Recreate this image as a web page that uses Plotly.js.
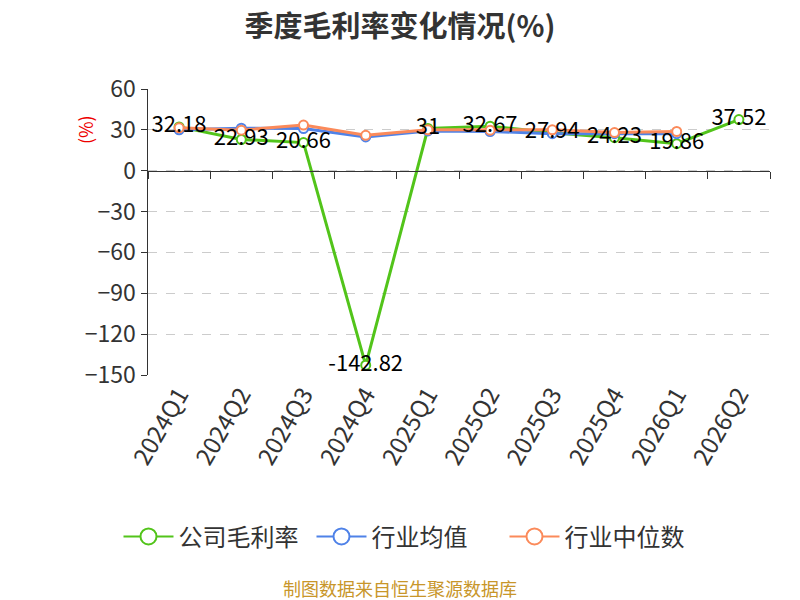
<!DOCTYPE html>
<html>
<head>
<meta charset="utf-8">
<script src="https://cdn.plot.ly/plotly-3.0.1.min.js"></script>
<style>
  html, body { margin: 0; padding: 0; background: #fff; }
  #chart { width: 800px; height: 600px; }
</style>
</head>
<body>
<div id="chart"></div>
<script>
// quarterly gross margin data
const quarters = ['2024Q1', '2024Q2', '2024Q3', '2024Q4', '2025Q1', '2025Q2', '2025Q3', '2025Q4', '2026Q1', '2026Q2'];
const companyMargin = [32.18, 22.93, 20.66, -142.82, 31, 32.67, 27.94, 24.23, 19.86, 37.52];
const industryAvg = [30, 31.2, 31, 24.8, 29.2, 28.8, 27.2, 27.2, 27.2, null];
const industryMedian = [31.5, 29.8, 33.5, 26, 30, 29.8, 30, 28, 28.8, null];
const yTicks = [-150, -120, -90, -60, -30, 0, 30, 60];

const FONT = '"Noto Sans CJK SC", "Noto Sans", sans-serif';
const GREEN = '#52c41a', BLUE = '#4f82e8', ORANGE = '#fb8a5a';

function series(name, y, color) {
    return {
        x: quarters, y: y, name: name,
        type: 'scatter', mode: 'lines+markers',
        line: { color: color, width: 3 },
        marker: { size: 9, color: '#fff', line: { color: color, width: 2 } },
        cliponaxis: false, showlegend: false,
        hoverinfo: 'skip'
    };
}

// legend-only entries, bigger circle like the original
function legendEntry(name, color) {
    return {
        x: [null], y: [null], name: name,
        type: 'scatter', mode: 'lines+markers',
        line: { color: color, width: 2 },
        marker: { size: 16, color: '#fff', line: { color: color, width: 2 } },
        hoverinfo: 'skip'
    };
}

const traces = [
    series('公司毛利率', companyMargin, GREEN),
    series('行业均值', industryAvg, BLUE),
    series('行业中位数', industryMedian, ORANGE),
    {
        x: quarters, y: companyMargin, type: 'scatter', mode: 'text',
        text: companyMargin.map(v => String(v)), textposition: 'middle center',
        textfont: { family: FONT, size: 22, color: '#000' },
        cliponaxis: false, showlegend: false, hoverinfo: 'skip'
    },
    // dummy trace so the zero axis with ticks gets drawn
    { x: quarters, y: quarters.map(() => null), xaxis: 'x2', type: 'scatter',
      mode: 'markers', showlegend: false, hoverinfo: 'skip' },
    legendEntry('公司毛利率', GREEN),
    legendEntry('行业均值', BLUE),
    legendEntry('行业中位数', ORANGE)
];

const layout = {
    width: 800, height: 600,
    paper_bgcolor: '#fff', plot_bgcolor: '#fff',
    font: { family: FONT, color: '#333' },
    margin: { l: 148, r: 30, t: 89, b: 225 },
    title: {
        text: '<b>季度毛利率变化情况(%)</b>',
        font: { family: FONT, size: 29, color: '#333' },
        x: 0.5, xanchor: 'center', y: 0.955, yanchor: 'middle'
    },
    xaxis: {
        type: 'category', categoryorder: 'array', categoryarray: quarters,
        range: [-0.5, 9.5],
        showline: false, showgrid: false, zeroline: false, ticks: '',
        tickangle: -60,
        tickfont: { family: FONT, size: 24, color: '#333' }
    },
    xaxis2: {
        type: 'category', categoryorder: 'array', categoryarray: quarters,
        range: [-0.5, 9.5], overlaying: 'x', anchor: 'free', position: 150 / 210,
        side: 'bottom',
        showline: true, linecolor: '#333', linewidth: 1.5,
        ticks: 'outside', tickson: 'boundaries', ticklen: 7, tickcolor: '#333',
        showgrid: false, showticklabels: false, zeroline: false
    },
    yaxis: {
        range: [-150, 60], tickvals: yTicks,
        showline: true, linecolor: '#333', linewidth: 1.5,
        ticks: 'outside', ticklen: 6, tickcolor: '#333',
        showgrid: true, gridcolor: '#cccccc', griddash: 'dash', gridwidth: 1,
        zeroline: false,
        tickfont: { family: FONT, size: 23, color: '#333' }
    },
    legend: {
        orientation: 'h', x: 0.418, xanchor: 'center', y: -0.566, yanchor: 'middle',
        font: { family: FONT, size: 24, color: '#333' },
        itemwidth: 50, entrywidth: 128, entrywidthmode: 'pixels'
    },
    annotations: [
        { text: '(%)', xref: 'paper', yref: 'y', x: -0.125, y: 30,
          textangle: -90, showarrow: false,
          font: { family: FONT, size: 18, color: '#e00' } },
        { text: '制图数据来自恒生聚源数据库', xref: 'paper', yref: 'paper',
          x: 0.405, y: -0.745, xanchor: 'center', yanchor: 'middle', showarrow: false,
          font: { family: FONT, size: 18, color: '#c8962a' } }
    ],
    showlegend: true
};

Plotly.newPlot('chart', traces, layout, { displayModeBar: false, staticPlot: true });
</script>
</body>
</html>
